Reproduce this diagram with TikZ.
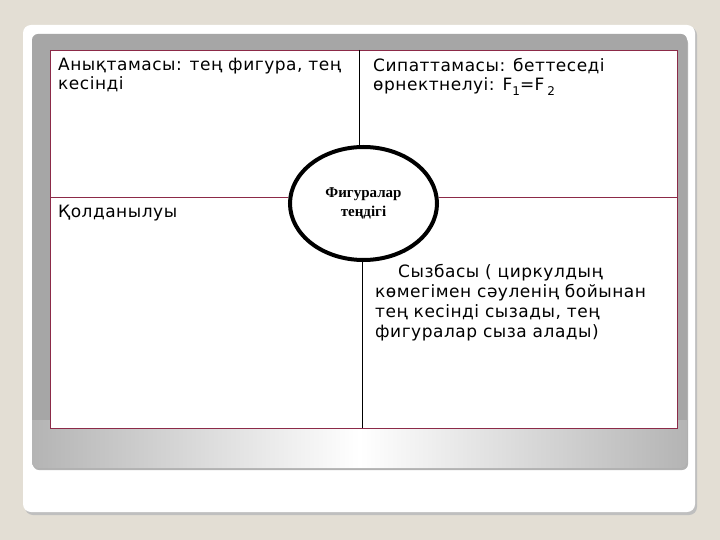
\documentclass[tikz,border=0pt]{standalone}
\usepackage{fontspec}
\setmainfont{DejaVu Sans}
\newfontfamily\ovalfont{Liberation Serif}
\newfontfamily\cellfont[LetterSpace=3]{DejaVu Sans}
\usetikzlibrary{shapes.geometric}
\definecolor{bgbeige}{HTML}{E3DED4}
\definecolor{panelgray}{HTML}{A6A6A6}
\definecolor{shadegray}{HTML}{B4B4B4}
\definecolor{rulered}{HTML}{8C2A48}

\begin{document}
\begin{tikzpicture}[x=1pt,y=-1pt,
    celltext/.style={anchor=north west,align=left,inner sep=0pt,
      font=\cellfont\fontsize{17}{19}\selectfont},
    rule/.style={rulered,line width=0.9pt}]
        % фон и слайд
        \useasboundingbox[fill=bgbeige] (0,0) rectangle (720,540);
        \fill[black!25,rounded corners=8pt] (25,27) rectangle (697,515);
        \fill[white,rounded corners=8pt] (23,25) rectangle (695,512);
        \fill[black!30,rounded corners=6pt] (33,37) rectangle (688,470);
        \fill[panelgray,rounded corners=6pt] (32,34) rectangle (687,468);
        \begin{scope}
            \clip[rounded corners=6pt] (32,34) rectangle (687,468);
            \shade[left color=shadegray,right color=shadegray,middle color=white]
                (32,420) rectangle (687,468);
        \end{scope}
        
        % кесте
        \node[draw=rulered,line width=0.9pt,fill=white,inner sep=0pt,
              minimum width=627pt,minimum height=378pt] (table) at (363.5,239) {};
        
        % ортаңғы сопақ
        \node[ellipse,draw,line width=4pt,fill=white,inner sep=0pt,
              minimum width=147pt,minimum height=113pt,align=center,
              font=\ovalfont\bfseries\fontsize{15}{19}\selectfont] (center) at (363.5,203.5)
              {Фигуралар\\теңдігі};
        
        % сызықтар
        \coordinate (topmid) at (359.5,50);
        \coordinate (botmid) at (362.8,428);
        \coordinate (midL) at (50,197);
        \coordinate (midR) at (677,197);
        \draw[line width=0.8pt] (topmid) -- (topmid |- center.north);
        \draw[line width=0.8pt] (botmid) -- (botmid |- center.south);
        \draw[rule] (midL) -- (center.west |- midL);
        \draw[rule] (midR) -- (center.east |- midR);
        
        % мәтіндер
        \node[celltext] (defn) at (58,58) {Анықтамасы: тең фигура, тең\\кесінді};
        \node[celltext] (prop) at (373,58)
            {Сипаттамасы: беттеседі\\өрнектнелуі: F\raisebox{-5pt}{\fontsize{12}{12}\selectfont 1}=F\,\raisebox{-5pt}{\fontsize{12}{12}\selectfont 2}};
        \node[celltext] (use) at (58,205) {Қолданылуы};
        \node[celltext,font=\cellfont\fontsize{17}{20}\selectfont] (draw) at (375,264)
            {\hspace*{23pt}Сызбасы ( циркулдың\\көмегімен сәуленің бойынан\\тең кесінді сызады, тең\\фигуралар сыза алады)};
\end{tikzpicture}
\end{document}
